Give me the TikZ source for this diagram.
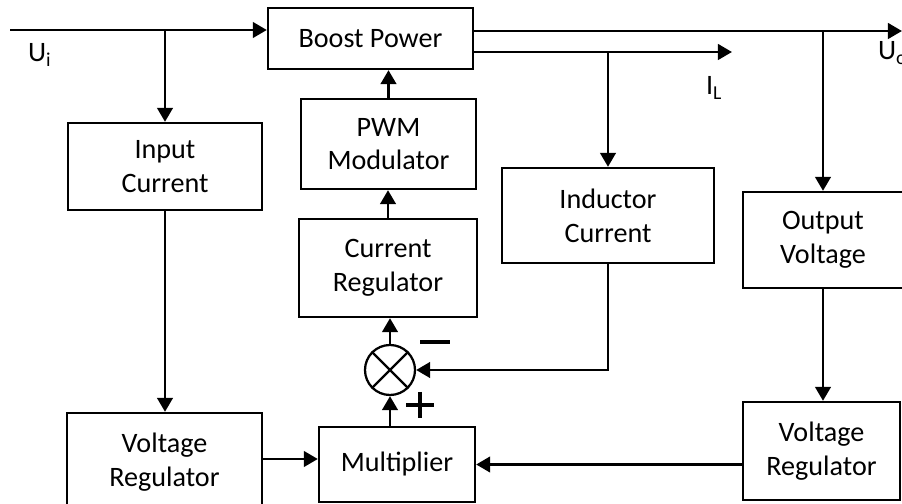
\documentclass[tikz,border=0pt]{standalone}
\usepackage{fontspec}
\setmainfont{Carlito}
\usetikzlibrary{arrows.meta}
\tikzset{every picture/.style={line width=1.6pt}}
\tikzset{
  block/.style={draw, line width=1.6pt, align=center, inner sep=0pt,
    font=\fontsize{20}{24}\selectfont},
  lbl/.style={font=\fontsize{20}{24}\selectfont, inner sep=0pt, anchor=west},
  sig/.style={line width=2.1pt, -{Triangle[length=10pt,width=11pt]}},
}

\begin{document}
\begin{tikzpicture}[x=0.025cm, y=-0.025cm]
    \useasboundingbox (0,0) rectangle (902,504);

    % 方框
    \node[block, minimum width=5.125cm, minimum height=1.525cm] (boost) at (370.5,38.5) {Boost Power};
    \node[block, minimum width=4.375cm, minimum height=2.25cm] (pwm) at (388.5,144) {PWM\\Modulator};
    \node[block, minimum width=4.45cm, minimum height=2.45cm] (cr) at (388,268) {Current\\Regulator};
    \node[block, minimum width=4.85cm, minimum height=2.175cm] (incur) at (165,166.5) {Input\\Current};
    \node[block, minimum width=5.3cm, minimum height=2.375cm] (indcur) at (608,215.5) {Inductor\\Current};
    \node[block, minimum width=4cm, minimum height=2.4cm] (outv) at (823,240) {Output\\Voltage};
    \node[block, minimum width=4.875cm, minimum height=2.45cm] (lvr) at (164.5,462) {Voltage\\Regulator};
    \node[block, minimum width=3.9cm, minimum height=1.875cm] (mult) at (397,464.5) {Multiplier};
    \node[block, minimum width=3.925cm, minimum height=2.45cm] (rvr) at (821.5,451) {Voltage\\Regulator};

    % 比较器
    \node[draw, circle, minimum size=1.25cm, inner sep=0pt] (sum) at (390,370) {};
    \draw (sum.north west) -- (sum.south east);
    \draw (sum.north east) -- (sum.south west);
    \draw[line width=2.6pt] (420,342) -- (450,342);
    \draw[line width=2.6pt] (406,405) -- (434,405) (420,392) -- (420,418);

    % 输入与输出
    \coordinate (ui) at (10,30);
    \coordinate (uo) at (902,31);
    \coordinate (il) at (732,52);
    \draw[sig] (ui) -- (ui -| boost.west);
    \draw[sig] (ui -| incur.north) -- (incur.north);
    \draw[sig] (boost.east |- uo) -- (uo);
    \draw[sig] (boost.east |- il) -- (il);
    \draw[sig] (il -| indcur.north) -- (indcur.north);
    \draw[sig] (uo -| outv.north) -- (outv.north);
    \node[lbl] (uilab) at (27,55) {U\textsubscript{i}};
    \node[lbl] (illab) at (705,88) {I\textsubscript{L}};
    \node[lbl] (uolab) at (877,53) {U\textsubscript{o}};

    % 反馈回路
    \draw[sig] (pwm.north) -- (pwm.north |- boost.south);
    \draw[sig] (cr.north) -- (cr.north |- pwm.south);
    \draw[sig] (sum.north) -- (sum.north |- cr.south);
    \draw[sig] (sum.south |- mult.north) -- (sum.south);
    \draw[sig] (indcur.south) |- (sum.east);
    \draw[sig] (incur.south) -- (incur.south |- lvr.north);
    \draw[sig] (outv.south) -- (outv.south |- rvr.north);
    \draw[sig] (lvr.east |- 0,459) -- (mult.west |- 0,459);
    \draw[sig] (rvr.west |- mult.east) -- (mult.east);
\end{tikzpicture}
\end{document}
